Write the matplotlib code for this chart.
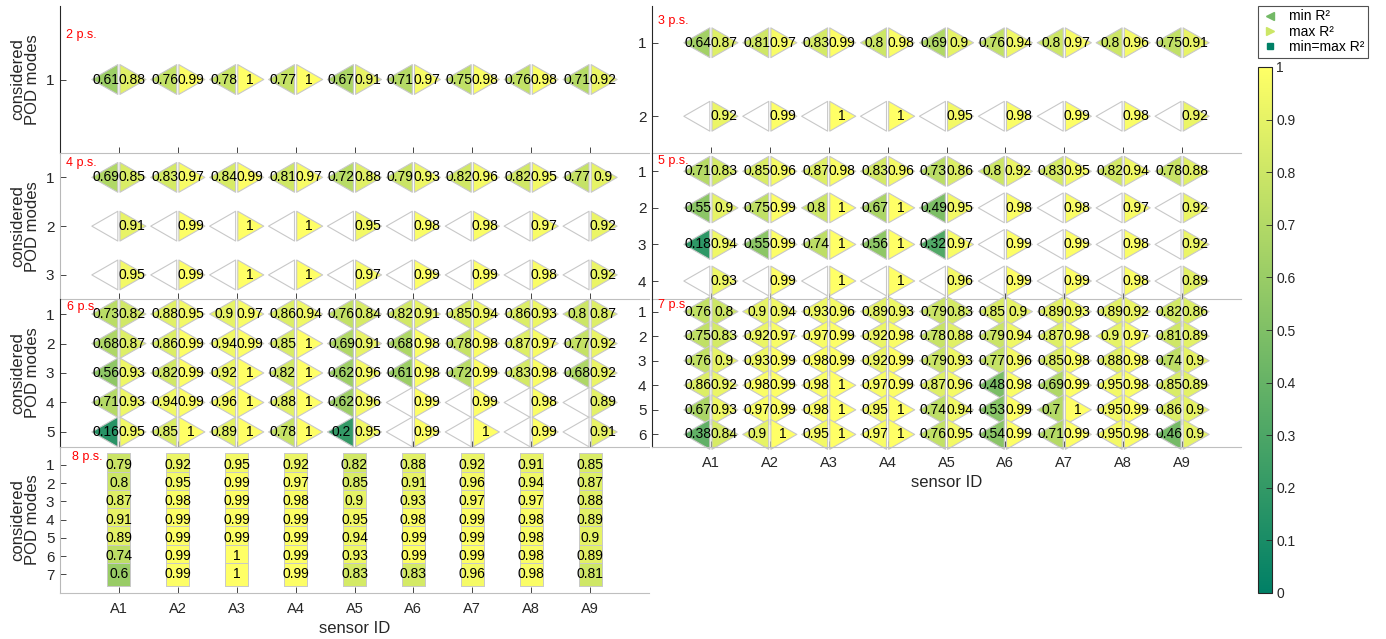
import numpy as np
import matplotlib.pyplot as plt
from matplotlib.path import Path
from matplotlib.lines import Line2D
from matplotlib.cm import ScalarMappable
from matplotlib.colors import Normalize

plt.rcParams['font.family'] = ['Liberation Sans', 'DejaVu Sans']

nan = np.nan
sensors = ['A1', 'A2', 'A3', 'A4', 'A5', 'A6', 'A7', 'A8', 'A9']

# R^2 per (POD mode, sensor); rows = considered POD modes
p2_min = [[0.61, 0.76, 0.78, 0.77, 0.67, 0.71, 0.75, 0.76, 0.71]]
p2_max = [[0.88, 0.99, 1, 1, 0.91, 0.97, 0.98, 0.98, 0.92]]

p3_min = [[0.64, 0.81, 0.83, 0.8, 0.69, 0.76, 0.8, 0.8, 0.75],
          [nan, nan, nan, nan, nan, nan, nan, nan, nan]]
p3_max = [[0.87, 0.97, 0.99, 0.98, 0.9, 0.94, 0.97, 0.96, 0.91],
          [0.92, 0.99, 1, 1, 0.95, 0.98, 0.99, 0.98, 0.92]]

p4_min = [[0.69, 0.83, 0.84, 0.81, 0.72, 0.79, 0.82, 0.82, 0.77],
          [nan, nan, nan, nan, nan, nan, nan, nan, nan],
          [nan, nan, nan, nan, nan, nan, nan, nan, nan]]
p4_max = [[0.85, 0.97, 0.99, 0.97, 0.88, 0.93, 0.96, 0.95, 0.9],
          [0.91, 0.99, 1, 1, 0.95, 0.98, 0.98, 0.97, 0.92],
          [0.95, 0.99, 1, 1, 0.97, 0.99, 0.99, 0.98, 0.92]]

p5_min = [[0.71, 0.85, 0.87, 0.83, 0.73, 0.8, 0.83, 0.82, 0.78],
          [0.55, 0.75, 0.8, 0.67, 0.49, nan, nan, nan, nan],
          [0.18, 0.55, 0.74, 0.56, 0.32, nan, nan, nan, nan],
          [nan, nan, nan, nan, nan, nan, nan, nan, nan]]
p5_max = [[0.83, 0.96, 0.98, 0.96, 0.86, 0.92, 0.95, 0.94, 0.88],
          [0.9, 0.99, 1, 1, 0.95, 0.98, 0.98, 0.97, 0.92],
          [0.94, 0.99, 1, 1, 0.97, 0.99, 0.99, 0.98, 0.92],
          [0.93, 0.99, 1, 1, 0.96, 0.99, 0.99, 0.98, 0.89]]

p6_min = [[0.73, 0.88, 0.9, 0.86, 0.76, 0.82, 0.85, 0.86, 0.8],
          [0.68, 0.86, 0.94, 0.85, 0.69, 0.68, 0.78, 0.87, 0.77],
          [0.56, 0.82, 0.92, 0.82, 0.62, 0.61, 0.72, 0.83, 0.68],
          [0.71, 0.94, 0.96, 0.88, 0.62, nan, nan, nan, nan],
          [0.16, 0.85, 0.89, 0.78, 0.2, nan, nan, nan, nan]]
p6_max = [[0.82, 0.95, 0.97, 0.94, 0.84, 0.91, 0.94, 0.93, 0.87],
          [0.87, 0.99, 0.99, 1, 0.91, 0.98, 0.98, 0.97, 0.92],
          [0.93, 0.99, 1, 1, 0.96, 0.98, 0.99, 0.98, 0.92],
          [0.93, 0.99, 1, 1, 0.96, 0.99, 0.99, 0.98, 0.89],
          [0.95, 1, 1, 1, 0.95, 0.99, 1, 0.99, 0.91]]

p7_min = [[0.76, 0.9, 0.93, 0.89, 0.79, 0.85, 0.89, 0.89, 0.82],
          [0.75, 0.92, 0.97, 0.92, 0.78, 0.79, 0.87, 0.9, 0.81],
          [0.76, 0.93, 0.98, 0.92, 0.79, 0.77, 0.85, 0.88, 0.74],
          [0.86, 0.98, 0.98, 0.97, 0.87, 0.48, 0.69, 0.95, 0.85],
          [0.67, 0.97, 0.98, 0.95, 0.74, 0.53, 0.7, 0.95, 0.86],
          [0.38, 0.9, 0.95, 0.97, 0.76, 0.54, 0.71, 0.95, 0.46]]
p7_max = [[0.8, 0.94, 0.96, 0.93, 0.83, 0.9, 0.93, 0.92, 0.86],
          [0.83, 0.97, 0.99, 0.98, 0.88, 0.94, 0.98, 0.97, 0.89],
          [0.9, 0.99, 0.99, 0.99, 0.93, 0.96, 0.98, 0.98, 0.9],
          [0.92, 0.99, 1, 0.99, 0.96, 0.98, 0.99, 0.98, 0.89],
          [0.93, 0.99, 1, 1, 0.94, 0.99, 1, 0.99, 0.9],
          [0.84, 1, 1, 1, 0.95, 0.99, 0.99, 0.98, 0.9]]

# 8 placed sensors: min = max
p8_val = [[0.79, 0.92, 0.95, 0.92, 0.82, 0.88, 0.92, 0.91, 0.85],
          [0.8, 0.95, 0.99, 0.97, 0.85, 0.91, 0.96, 0.94, 0.87],
          [0.87, 0.98, 0.99, 0.98, 0.9, 0.93, 0.97, 0.97, 0.88],
          [0.91, 0.99, 0.99, 0.99, 0.95, 0.98, 0.99, 0.98, 0.89],
          [0.89, 0.99, 0.99, 0.99, 0.94, 0.99, 0.99, 0.98, 0.9],
          [0.74, 0.99, 1, 0.99, 0.93, 0.99, 0.99, 0.98, 0.89],
          [0.6, 0.99, 1, 0.99, 0.83, 0.83, 0.96, 0.98, 0.81]]

cmap = plt.get_cmap('summer').with_extremes(bad='white')
EDGE = '#c8c8c8'
TXT = '0.15'
FS_VAL = 10

# triangle markers anchored at the base (the sensor position)
tri_l = Path([(-1, 0), (-0.04, -0.55), (-0.04, 0.55), (-1, 0)],
             [Path.MOVETO, Path.LINETO, Path.LINETO, Path.CLOSEPOLY])
tri_r = Path([(1, 0), (0.04, -0.55), (0.04, 0.55), (1, 0)],
             [Path.MOVETO, Path.LINETO, Path.LINETO, Path.CLOSEPOLY])
S_TRI = 1520
S_SQ = 274
OFF = 9.4  # points from sensor to triangle middle

fig = plt.figure(figsize=(13.86, 6.39), dpi=100)
W, H = 1386.0, 639.0
col_x = [60 / W, 652 / W]
ax_w = 589 / W
rows_px = [(6, 153), (153, 299.3), (299.3, 446.7), (446.7, 592.7)]

# name, column, row, mins, maxs, label pos, left spine colour
panels = [
    ('2 p.s.', 0, 0, p2_min, p2_max, (0.1, 0.7), TXT),
    ('3 p.s.', 1, 0, p3_min, p3_max, (0.1, 0.71), TXT),
    ('4 p.s.', 0, 1, p4_min, p4_max, (0.1, 0.7), '0.72'),
    ('5 p.s.', 1, 1, p5_min, p5_max, (0.1, 0.72), TXT),
    ('6 p.s.', 0, 2, p6_min, p6_max, (0.12, 0.75), TXT),
    ('7 p.s.', 1, 2, p7_min, p7_max, (0.1, 0.73), TXT),
    ('8 p.s.', 0, 3, None, p8_val, (0.21, 0.55), '0.72'),
]

xs = np.arange(1, len(sensors) + 1)


def fmt(v):
    return '%g' % v


for name, col, row, mins, maxs, lab, lcol in panels:
    top, bot = rows_px[row]
    ax = fig.add_axes([col_x[col], 1 - bot / H, ax_w, (bot - top) / H])
    ax.set_facecolor('none')
    n = len(maxs)
    for i in range(n):
        m = i + 1
        yy = np.full(len(xs), m)
        if mins is None:
            ax.scatter(xs, yy, c=maxs[i], cmap=cmap, vmin=0, vmax=1, marker='s',
                       s=S_SQ, edgecolors=EDGE, linewidths=0.7, zorder=2, clip_on=False)
            for x, v in zip(xs, maxs[i]):
                ax.text(x, m, fmt(v), ha='center', va='center', fontsize=FS_VAL,
                        color='k', zorder=4)
            continue
        ax.scatter(xs, yy, c=mins[i], cmap=cmap, vmin=0, vmax=1, marker=tri_l,
                   s=S_TRI, edgecolors=EDGE, linewidths=0.8, zorder=2, clip_on=False,
                   plotnonfinite=True)
        ax.scatter(xs, yy, c=maxs[i], cmap=cmap, vmin=0, vmax=1, marker=tri_r,
                   s=S_TRI, edgecolors=EDGE, linewidths=0.8, zorder=2, clip_on=False)
        for x, lo, hi in zip(xs, mins[i], maxs[i]):
            if not np.isnan(lo):
                ax.annotate(fmt(lo), (x, m), xytext=(-OFF, 0), textcoords='offset points',
                            ha='center', va='center', fontsize=FS_VAL, color='k', zorder=4)
            ax.annotate(fmt(hi), (x, m), xytext=(OFF, 0), textcoords='offset points',
                        ha='center', va='center', fontsize=FS_VAL, color='k', zorder=4)

    ax.set_xlim(0, 10)
    if mins is None:
        ax.set_ylim(n + 1, 0)
    else:
        ax.set_ylim(n + 0.5, 0.5)
    ax.set_yticks(range(1, n + 1))
    ax.set_xticks(xs)
    ax.text(lab[0], lab[1], name, color='red', fontsize=9, ha='left', va='center', zorder=1)

    for s in ('top', 'right'):
        ax.spines[s].set_visible(False)
    ax.spines['bottom'].set_color('0.75')
    ax.spines['left'].set_color(lcol)
    for s in ('bottom', 'left'):
        ax.spines[s].set_linewidth(0.8)
    ax.tick_params(direction='in', length=4, width=0.6, color=TXT, labelsize=10.5,
                   labelcolor=TXT)
    ax.tick_params(axis='y', pad=4, labelsize=11)
    if row == 3 or (col == 1 and row == 2):
        ax.set_xticklabels(sensors)
        ax.tick_params(axis='x', pad=7)
        ax.set_xlabel('sensor ID', fontsize=12, color=TXT, labelpad=3)
    else:
        ax.tick_params(axis='x', labelbottom=False)
    if col == 0:
        ax.set_ylabel('considered\nPOD modes', fontsize=12, color=TXT, linespacing=1.0)
        ax.yaxis.set_label_coords(-0.034, 0.5)

# colorbar
cax = fig.add_axes([1258 / W, 1 - 593 / H, 14 / W, 526 / H])
cb = fig.colorbar(ScalarMappable(norm=Normalize(0, 1), cmap='summer'), cax=cax)
cb.set_ticks(np.arange(0, 1.01, 0.1))
cb.set_ticklabels(['0', '0.1', '0.2', '0.3', '0.4', '0.5', '0.6', '0.7', '0.8', '0.9', '1'])
cb.outline.set_linewidth(0.8)
cb.outline.set_edgecolor(TXT)
cax.tick_params(direction='in', length=4, width=0.6, color=TXT, labelsize=10,
                labelcolor=TXT, pad=3)

summer = plt.get_cmap('summer')
handles = [
    Line2D([], [], ls='none', marker='<', markersize=6, markerfacecolor=summer(0.45),
           markeredgecolor=summer(0.45)),
    Line2D([], [], ls='none', marker='>', markersize=6, markerfacecolor=summer(0.8),
           markeredgecolor=summer(0.8)),
    Line2D([], [], ls='none', marker='s', markersize=5, markerfacecolor=summer(0.0),
           markeredgecolor=summer(0.0)),
]
leg = fig.legend(handles, ['min R²', 'max R²', 'min=max R²'], loc='upper left',
                 bbox_to_anchor=(1258 / W, 1 - 6 / H), borderaxespad=0, fontsize=10,
                 frameon=True, fancybox=False, handlelength=1.2, handletextpad=0.8,
                 labelspacing=0.1, borderpad=0.25)
leg.get_frame().set_edgecolor(TXT)
leg.get_frame().set_linewidth(0.8)

fig.savefig('out.png', dpi=100)
